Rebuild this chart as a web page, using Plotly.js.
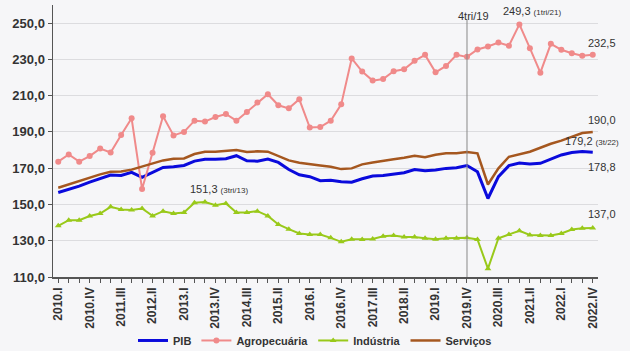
<!DOCTYPE html>
<html>
<head>
<meta charset="utf-8">
<script src="https://cdn.plot.ly/plotly-3.0.1.min.js"></script>
<style>
html,body{margin:0;padding:0;background:#f6f6f8;}
#chart{width:630px;height:351px;}
</style>
</head>
<body>
<div id="chart"></div>
<script>
const quarters = [
  "2010.I","2010.II","2010.III","2010.IV",
  "2011.I","2011.II","2011.III","2011.IV",
  "2012.I","2012.II","2012.III","2012.IV",
  "2013.I","2013.II","2013.III","2013.IV",
  "2014.I","2014.II","2014.III","2014.IV",
  "2015.I","2015.II","2015.III","2015.IV",
  "2016.I","2016.II","2016.III","2016.IV",
  "2017.I","2017.II","2017.III","2017.IV",
  "2018.I","2018.II","2018.III","2018.IV",
  "2019.I","2019.II","2019.III","2019.IV",
  "2020.I","2020.II","2020.III","2020.IV",
  "2021.I","2021.II","2021.III","2021.IV",
  "2022.I","2022.II","2022.III","2022.IV"
];
const tickLabels = ["2010.I","2010.IV","2011.III","2012.II","2013.I","2013.IV","2014.III","2015.II","2016.I","2016.IV","2017.III","2018.II","2019.I","2019.IV","2020.III","2021.II","2022.I","2022.IV"];

const pib = [156.6,158.3,160.1,162.3,164.4,166.2,166.0,167.7,164.9,167.7,170.4,170.8,
  171.5,173.9,174.9,175.0,175.2,176.9,174.1,173.9,175.0,173.2,169.3,166.4,
  165.3,163.1,163.4,162.5,162.3,164.2,165.7,166.0,166.8,167.5,169.3,168.6,
  169.0,169.9,170.3,171.5,168.0,153.3,165.3,171.4,172.8,172.3,172.7,174.9,
  177.3,178.7,179.2,178.8];
const agro = [173.6,177.6,173.6,176.7,180.8,178.7,188.3,197.5,158.5,178.5,198.6,188.1,
  190.0,196.2,195.7,198.2,199.9,196.2,201.0,206.2,210.8,204.7,203.0,208.0,
  192.4,192.7,196.2,205.2,230.5,223.3,218.3,219.2,223.5,224.6,229.2,232.5,
  222.9,226.4,232.5,231.4,235.5,237.1,239.3,237.5,249.3,236.2,222.7,238.6,
  235.3,233.4,232.0,232.5];
const industria = [138.2,141.3,141.3,143.6,145.0,148.7,147.2,146.9,147.8,143.7,146.3,145.0,
  145.6,150.9,151.3,149.6,150.6,145.6,145.6,146.3,143.7,139.0,136.4,134.0,
  133.4,133.4,131.6,129.4,130.8,130.7,131.0,132.5,132.9,132.1,132.1,131.4,
  130.8,131.4,131.4,131.6,130.7,114.6,131.4,133.4,135.5,133.2,132.9,132.9,
  134.0,136.2,136.9,137.0];
const servicos = [159.2,161.0,163.1,164.9,166.6,168.0,168.2,169.2,170.8,172.7,174.3,175.2,
  175.4,177.8,179.1,179.1,179.7,180.0,178.9,179.3,179.1,176.9,174.3,173.0,
  172.1,171.5,170.8,169.5,169.9,172.1,173.2,173.9,174.9,175.8,176.9,176.0,
  177.4,178.2,178.3,178.9,178.2,161.0,169.9,176.3,177.8,179.1,181.3,183.5,
  185.2,187.4,189.4,190.0];

const seriesNames = ["PIB","Agropecuária","Indústria","Serviços"];
const yTicks = [110,130,150,170,190,210,230,250];

const fmt = v => v.toFixed(1).replace('.', ',');

const traces = [
  {x: quarters, y: pib, name: seriesNames[0], type: 'scatter', mode: 'lines',
   line: {color: '#0a0adc', width: 3}},
  {x: quarters, y: agro, name: seriesNames[1], type: 'scatter', mode: 'lines+markers',
   line: {color: '#f08a8a', width: 2}, marker: {symbol: 'circle', size: 6, color: '#f08a8a'}},
  {x: quarters, y: industria, name: seriesNames[2], type: 'scatter', mode: 'lines+markers',
   line: {color: '#99c91a', width: 2}, marker: {symbol: 'triangle-up', size: 6, color: '#99c91a'}},
  {x: quarters, y: servicos, name: seriesNames[3], type: 'scatter', mode: 'lines',
   line: {color: '#a5571f', width: 2.5}}
];

const markIdx = quarters.indexOf("2019.IV");
const iInd = quarters.indexOf("2013.III");
const iAgro = quarters.indexOf("2021.I");
const iPib = quarters.indexOf("2022.III");
const last = quarters.length - 1;

const annFont = {family: 'Liberation Sans, Arial, sans-serif', size: 11, color: '#333'};
const annotations = [
  {x: quarters[iInd], y: industria[iInd], xref: 'x', yref: 'y', text: fmt(industria[iInd]) + ' <span style="font-size:8px">(3tri/13)</span>',
   showarrow: false, yshift: 13, xshift: 14, font: annFont},
  {x: quarters[markIdx], y: 260, xref: 'x', yref: 'y', text: '4tri/19', showarrow: false,
   yanchor: 'top', yshift: -3, xshift: 7, font: annFont},
  {x: quarters[iAgro], y: agro[iAgro], xref: 'x', yref: 'y', text: fmt(agro[iAgro]) + ' <span style="font-size:8px">(1tri/21)</span>',
   showarrow: false, yshift: 13, xshift: 13, font: annFont},
  {x: quarters[last], y: agro[last], xref: 'x', yref: 'y', text: fmt(agro[last]), showarrow: false,
   yshift: 12, xshift: 9, font: annFont},
  {x: quarters[last], y: servicos[last], xref: 'x', yref: 'y', text: fmt(servicos[last]), showarrow: false,
   yshift: 12, xshift: 9, font: annFont},
  {x: quarters[iPib], y: pib[iPib], xref: 'x', yref: 'y', text: fmt(pib[iPib]) + ' <span style="font-size:8px">(3t/22)</span>',
   showarrow: false, yshift: 11, xshift: 10, font: annFont},
  {x: quarters[last], y: pib[last], xref: 'x', yref: 'y', text: fmt(pib[last]), showarrow: false,
   yshift: -15, xshift: 9, font: annFont},
  {x: quarters[last], y: industria[last], xref: 'x', yref: 'y', text: fmt(industria[last]), showarrow: false,
   yshift: 14, xshift: 9, font: annFont}
];

const layout = {
  width: 630, height: 351,
  margin: {l: 53, r: 32, t: 5, b: 74},
  paper_bgcolor: '#f6f6f8', plot_bgcolor: '#f6f6f8',
  showlegend: true,
  legend: {orientation: 'h', xref: 'container', yref: 'container', x: 0.5, xanchor: 'center',
    y: 0.03, yanchor: 'middle', font: {family: 'Liberation Sans, Arial, sans-serif', size: 11, color: '#333', weight: 'bold'},
    itemwidth: 30, tracegroupgap: 0, bgcolor: 'rgba(0,0,0,0)'},
  xaxis: {type: 'category', range: [-0.5, quarters.length - 0.5],
    tickmode: 'array', tickvals: quarters,
    ticktext: quarters.map(q => tickLabels.includes(q) ? q : ''),
    tickangle: -90, ticks: 'outside', ticklen: 4, tickcolor: '#555', tickwidth: 1,
    showline: true, linecolor: '#555', linewidth: 1.5, showgrid: false, zeroline: false,
    tickfont: {family: 'Liberation Sans, Arial, sans-serif', size: 12, color: '#333', weight: 'bold'}},
  yaxis: {range: [110, 260], tickmode: 'array', tickvals: yTicks, ticktext: yTicks.map(fmt),
    ticks: 'outside', ticklen: 4, tickcolor: '#555', showline: true, linecolor: '#555', linewidth: 1.5,
    showgrid: true, gridcolor: '#dcdcdf', gridwidth: 1, zeroline: false,
    tickfont: {family: 'Liberation Sans, Arial, sans-serif', size: 13, color: '#333', weight: 'bold'}},
  shapes: [
    {type: 'line', xref: 'x', yref: 'y', x0: quarters[markIdx], x1: quarters[markIdx], y0: 110, y1: 252,
     line: {color: '#888', width: 1}}
  ],
  annotations: annotations
};

Plotly.newPlot('chart', traces, layout, {displayModeBar: false, staticPlot: true});
</script>
</body>
</html>
